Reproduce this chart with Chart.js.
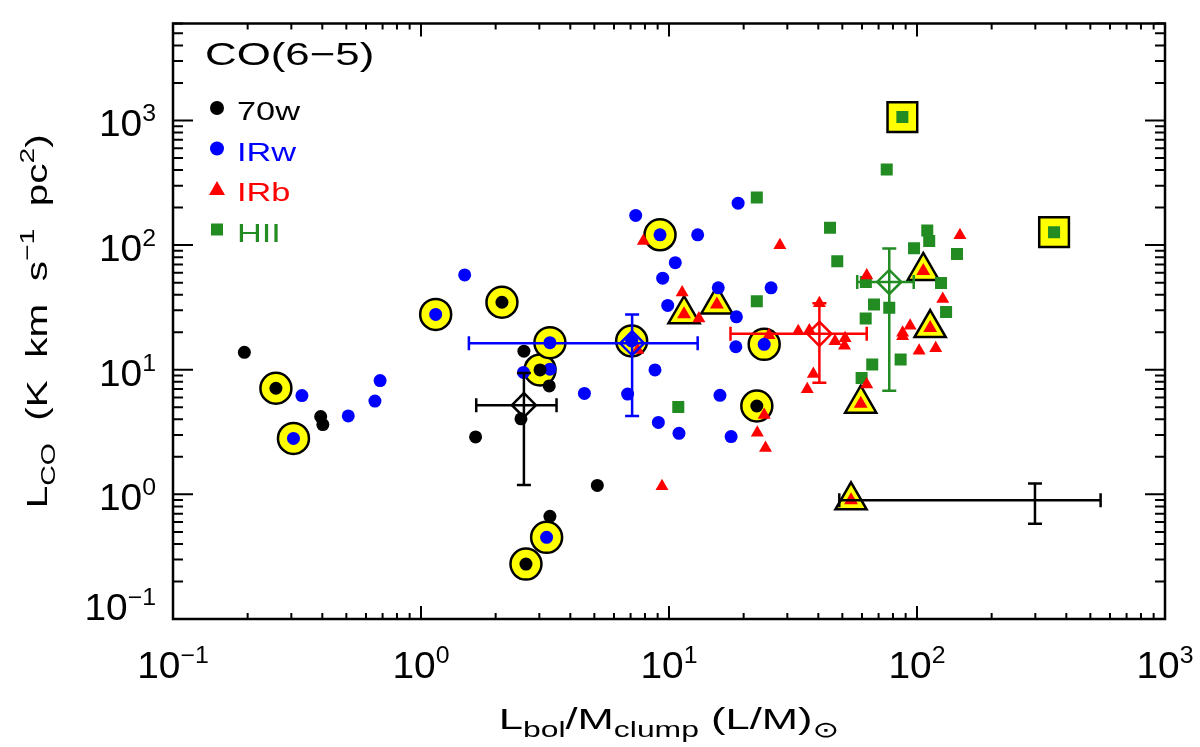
<!DOCTYPE html>
<html>
<head>
<meta charset="utf-8">
<script src="https://cdn.jsdelivr.net/npm/chart.js@4.4.0/dist/chart.umd.min.js"></script>
<style>
  body { margin: 0; background: #fff; }
  #wrap { width: 1200px; height: 747px; }
</style>
</head>
<body>
<div id="wrap"><canvas id="coChart"></canvas></div>
<script>
// CO(6-5) luminosity vs L/M

// 70w (black)
const blackX = [0.194, 0.394, 0.402, 2.6, 3.29, 2.53, 1.66, 5.14, 3.31];
const blackY = [13.8, 4.21, 3.63, 14.1, 7.41, 4.04, 2.89, 1.18, 0.666];
const blackHiX = [0.26, 3.02, 2.65, 2.12, 22.6];
const blackHiY = [7.1, 9.96, 0.276, 34.8, 5.12];

// IRw (blue)
const blueX = [0.331, 0.509, 0.652, 0.684, 1.50, 2.59, 3.31, 4.56, 6.81, 7.34, 13.05, 10.6,
  9.43, 9.88, 15.8, 25.8, 18.7, 19.0, 18.6, 8.78, 9.06, 10.97, 16.05, 17.8];
const blueY = [6.2, 4.26, 5.6, 8.19, 57.7, 9.51, 10.1, 6.46, 6.38, 173, 121, 72.3,
  54.3, 32.8, 45.4, 45.4, 26.6, 217, 15.3, 9.96, 3.78, 3.09, 6.23, 2.91];
const blueHiX = [0.306, 1.146, 3.31, 7.07, 9.20, 24.2, 3.21];
const blueHiY = [2.81, 27.8, 16.5, 17.0, 121, 16.0, 0.452];

// IRb (red)
const redX = [7.88, 28.0, 11.3, 13.2, 7.48, 25.3, 33.2, 36.8, 46.7, 51.3, 51.0, 40.4, 38.2, 36.1,
  62.7, 149, 127, 93.8, 87.5, 87.5, 102, 119, 62.7, 24.2, 22.7, 24.5, 9.37];
const redY = [108, 99.7, 41.6, 25.8, 14.4, 18.9, 20.4, 20.6, 16.9, 17.9, 15.6, 34.2, 9.23, 6.97,
  57.0, 120, 36.9, 22.5, 19.8, 18.6, 14.2, 14.9, 7.63, 4.34, 3.12, 2.35, 1.16];
const redHiX = [11.5, 15.6, 106, 113, 59.3, 54.2];
const redHiY = [27.9, 33.4, 62.0, 21.6, 5.34, 0.895];

// HII (green)
const greenX = [75.5, 44.6, 47.7, 110, 112, 97.3, 145, 62.2, 125, 67.1, 77.3, 62.1, 131,
  66.0, 85.9, 59.8, 22.6, 22.6, 10.9];
const greenY = [404, 138, 74.1, 131, 108, 94.5, 84.9, 50.6, 49.7, 33.4, 31.5, 25.8, 29.1,
  11.0, 12.1, 8.6, 241, 35.4, 5.03];
const greenHiX = [87.3, 357];
const greenHiY = [1065, 127];

// group means with error bars (70w, IRw, IRb, HII) and the typical uncertainty bar
const meanX = [2.6, 7.1, 40.4, 77.3];
const meanY = [5.2, 16.3, 19.4, 50.6];
const meanXLo = [1.67, 1.56, 17.7, 57.4];
const meanXHi = [3.52, 13.05, 62.7, 97];
const meanYLo = [1.19, 4.26, 7.86, 6.78];
const meanYHi = [9.4, 27.8, 34.2, 94];
const typX = [299], typY = [0.895];
const typXLo = [48.6], typXHi = [550], typYLo = [0.58], typYHi = [1.22];

// axes
const xDecades = [0.1, 1, 10, 100, 1000];
const xTickExps = ['\u22121', '0', '1', '2', '3'];
const yDecades = [0.1, 1, 10, 100, 1000];
const yTickExps = ['\u22121', '0', '1', '2', '3'];

const legendNames = ['70w', 'IRw', 'IRb', 'HII'];
const BLACK = '#000000', BLUE = '#0000ff', RED = '#ff0000', GREEN = '#228b22', YELLOW = '#ffff00';
const groupColors = [BLACK, BLUE, RED, GREEN];
const FONT = '"Liberation Sans", Arial, "DejaVu Sans", sans-serif';

function pts(xs, ys) {
    return xs.map((x, i) => ({ x: x, y: ys[i] }));
}

function marks(label, xs, ys, style, radius, fill, stroke, bw, order) {
    return {
        label: label,
        data: pts(xs, ys),
        pointStyle: style,
        pointRadius: radius,
        pointBackgroundColor: fill,
        pointBorderColor: stroke,
        pointBorderWidth: bw,
        order: order,
    };
}

// text with sub/superscripts; sx stretches glyphs sideways (the IDL font is wide)
function richWidth(ctx, parts, sx) {
    let w = 0;
    parts.forEach(p => {
        ctx.font = p[1] + 'px ' + FONT;
        w += ctx.measureText(p[0]).width * sx;
    });
    return w;
}
function drawRich(ctx, parts, x, y, align, sx) {
    const w = richWidth(ctx, parts, sx);
    let cx = align === 'center' ? x - w / 2 : align === 'right' ? x - w : x;
    ctx.textAlign = 'left';
    ctx.textBaseline = 'alphabetic';
    parts.forEach(p => {
        ctx.font = p[1] + 'px ' + FONT;
        ctx.save();
        ctx.translate(cx, y + p[2]);
        ctx.scale(sx, 1);
        ctx.fillText(p[0], 0, 0);
        ctx.restore();
        cx += ctx.measureText(p[0]).width * sx;
    });
}

const idlFrame = {
    id: 'idlFrame',
    beforeDatasetsDraw(chart) {
        const { ctx, chartArea: a, scales: { x, y } } = chart;
        ctx.save();
        ctx.strokeStyle = BLACK;
        ctx.lineWidth = 2;
        ctx.beginPath();
        xDecades.forEach(d => {
            for (let m = 1; m < 10; m++) {
                const v = d * m;
                if (v > x.max * 1.0001) break;
                const px = x.getPixelForValue(v);
                const len = m === 1 ? 13 : 6;
                ctx.moveTo(px, a.bottom); ctx.lineTo(px, a.bottom - len);
                ctx.moveTo(px, a.top); ctx.lineTo(px, a.top + len);
            }
        });
        yDecades.forEach(d => {
            for (let m = 1; m < 10; m++) {
                const v = d * m;
                if (v > y.max * 1.0001) break;
                const py = y.getPixelForValue(v);
                const len = m === 1 ? 20 : 10;
                ctx.moveTo(a.left, py); ctx.lineTo(a.left + len, py);
                ctx.moveTo(a.right, py); ctx.lineTo(a.right - len, py);
            }
        });
        ctx.stroke();
        ctx.lineWidth = 2.5;
        ctx.strokeRect(a.left, a.top, a.right - a.left, a.bottom - a.top);
        ctx.restore();
    },
    afterDatasetsDraw(chart) {
        const { ctx, scales: { x, y } } = chart;
        const bar = (cx, cy, xl, xh, yl, yh, color) => {
            const px = x.getPixelForValue(cx), py = y.getPixelForValue(cy);
            const x0 = x.getPixelForValue(xl), x1 = x.getPixelForValue(xh);
            const y0 = y.getPixelForValue(yl), y1 = y.getPixelForValue(yh);
            ctx.strokeStyle = color;
            ctx.lineWidth = 2.5;
            ctx.beginPath();
            ctx.moveTo(x0, py); ctx.lineTo(x1, py);
            ctx.moveTo(px, y0); ctx.lineTo(px, y1);
            ctx.moveTo(x0, py - 7); ctx.lineTo(x0, py + 7);
            ctx.moveTo(x1, py - 7); ctx.lineTo(x1, py + 7);
            ctx.moveTo(px - 7, y0); ctx.lineTo(px + 7, y0);
            ctx.moveTo(px - 7, y1); ctx.lineTo(px + 7, y1);
            ctx.stroke();
        };
        ctx.save();
        meanX.forEach((v, i) => bar(v, meanY[i], meanXLo[i], meanXHi[i], meanYLo[i], meanYHi[i], groupColors[i]));
        typX.forEach((v, i) => bar(v, typY[i], typXLo[i], typXHi[i], typYLo[i], typYHi[i], BLACK));
        ctx.restore();
    },
    afterDraw(chart) {
        const { ctx, chartArea: a, scales: { x, y } } = chart;
        ctx.save();
        ctx.fillStyle = BLACK;
        // tick labels
        xDecades.forEach((d, i) => {
            drawRich(ctx, [['10', 36, 0], [xTickExps[i], 23, -15]], x.getPixelForValue(d), a.bottom + 59, 'center', 1.08);
        });
        yDecades.forEach((d, i) => {
            const py = y.getPixelForValue(d);
            drawRich(ctx, [['10', 36, 0], [yTickExps[i], 23, -15]], a.left - 17, Math.min(py + 16, a.bottom + 1), 'right', 1.08);
        });
        // axis titles
        drawRich(ctx, [['L', 30, 0], ['bol', 22, 8], ['/M', 30, 0], ['clump', 22, 8], [' (L/M)', 30, 0], ['\u2299', 22, 8]],
            (a.left + a.right) / 2, 729, 'center', 1.45);
        ctx.save();
        ctx.translate(47, (a.top + a.bottom) / 2);
        ctx.rotate(-Math.PI / 2);
        drawRich(ctx, [['L', 30, 0], ['CO', 21, 8], ['  (K  km  s', 30, 0], ['\u22121', 21, -13], ['  pc', 30, 0], ['2', 21, -13], [')', 30, 0]],
            0, 0, 'center', 1.35);
        ctx.restore();
        // legend
        drawRich(ctx, [['CO(6\u22125)', 32, 0]], 205, 65, 'left', 1.37);
        legendNames.forEach((name, i) => {
            const cy = 108 + i * 40.5;
            ctx.fillStyle = groupColors[i];
            ctx.beginPath();
            if (i < 2) {
                ctx.arc(217, cy, 7, 0, Math.PI * 2);
            } else if (i === 2) {
                ctx.moveTo(217, cy - 8); ctx.lineTo(225, cy + 6); ctx.lineTo(209, cy + 6); ctx.closePath();
            } else {
                ctx.rect(211, cy - 6, 12, 12);
            }
            ctx.fill();
            drawRich(ctx, [[name, 26, 0]], 237, cy + 12, 'left', 1.32);
        });
        ctx.restore();
    }
};

const datasets = [
    // mean diamonds
    marks('mean', meanX, meanY, 'rectRot', 12, 'rgba(0,0,0,0)', groupColors, 2.5, 1),
    // inner marks of highlighted sources
    marks('70w*', blackHiX, blackHiY, 'circle', 6.5, BLACK, BLACK, 0, 3),
    marks('IRw*', blueHiX, blueHiY, 'circle', 6.5, BLUE, BLUE, 0, 3),
    marks('IRb*', redHiX, redHiY, 'triangle', 8, RED, RED, 0, 3),
    marks('HII*', greenHiX, greenHiY, 'rect', 8.5, GREEN, GREEN, 0, 3),
    // plain sources
    marks('70w', blackX, blackY, 'circle', 6.5, BLACK, BLACK, 0, 5),
    marks('IRw', blueX, blueY, 'circle', 6.5, BLUE, BLUE, 0, 5),
    marks('IRb', redX, redY, 'triangle', 7.5, RED, RED, 0, 5),
    marks('HII', greenX, greenY, 'rect', 8.5, GREEN, GREEN, 0, 5),
    // yellow highlight shapes
    marks('ring', blackHiX.concat(blueHiX), blackHiY.concat(blueHiY), 'circle', 15.5, YELLOW, BLACK, 2.5, 10),
    marks('tri', redHiX, redHiY, 'triangle', 18, YELLOW, BLACK, 2.5, 10),
    marks('box', greenHiX, greenHiY, 'rect', 21, YELLOW, BLACK, 2.5, 10),
];

function drawCoChart() {
    const ctx = document.getElementById('coChart').getContext('2d');
    new Chart(ctx, {
        type: 'scatter',
        data: { datasets: datasets },
        options: {
            responsive: true,
            maintainAspectRatio: false,
            animation: false,
            events: [],
            layout: { padding: { left: 0, top: 3, right: 35, bottom: 0 } },
            plugins: { legend: { display: false }, tooltip: { enabled: false } },
            scales: {
                x: {
                    type: 'logarithmic',
                    min: 0.1,
                    max: 1000,
                    grid: { display: false },
                    border: { display: false },
                    ticks: { display: false },
                    afterFit: s => { s.height = 128; },
                },
                y: {
                    type: 'logarithmic',
                    min: 0.1,
                    max: 6000,
                    grid: { display: false },
                    border: { display: false },
                    ticks: { display: false },
                    afterFit: s => { s.width = 173; },
                },
            },
        },
        plugins: [idlFrame],
    });
}

drawCoChart();
</script>
</body>
</html>
